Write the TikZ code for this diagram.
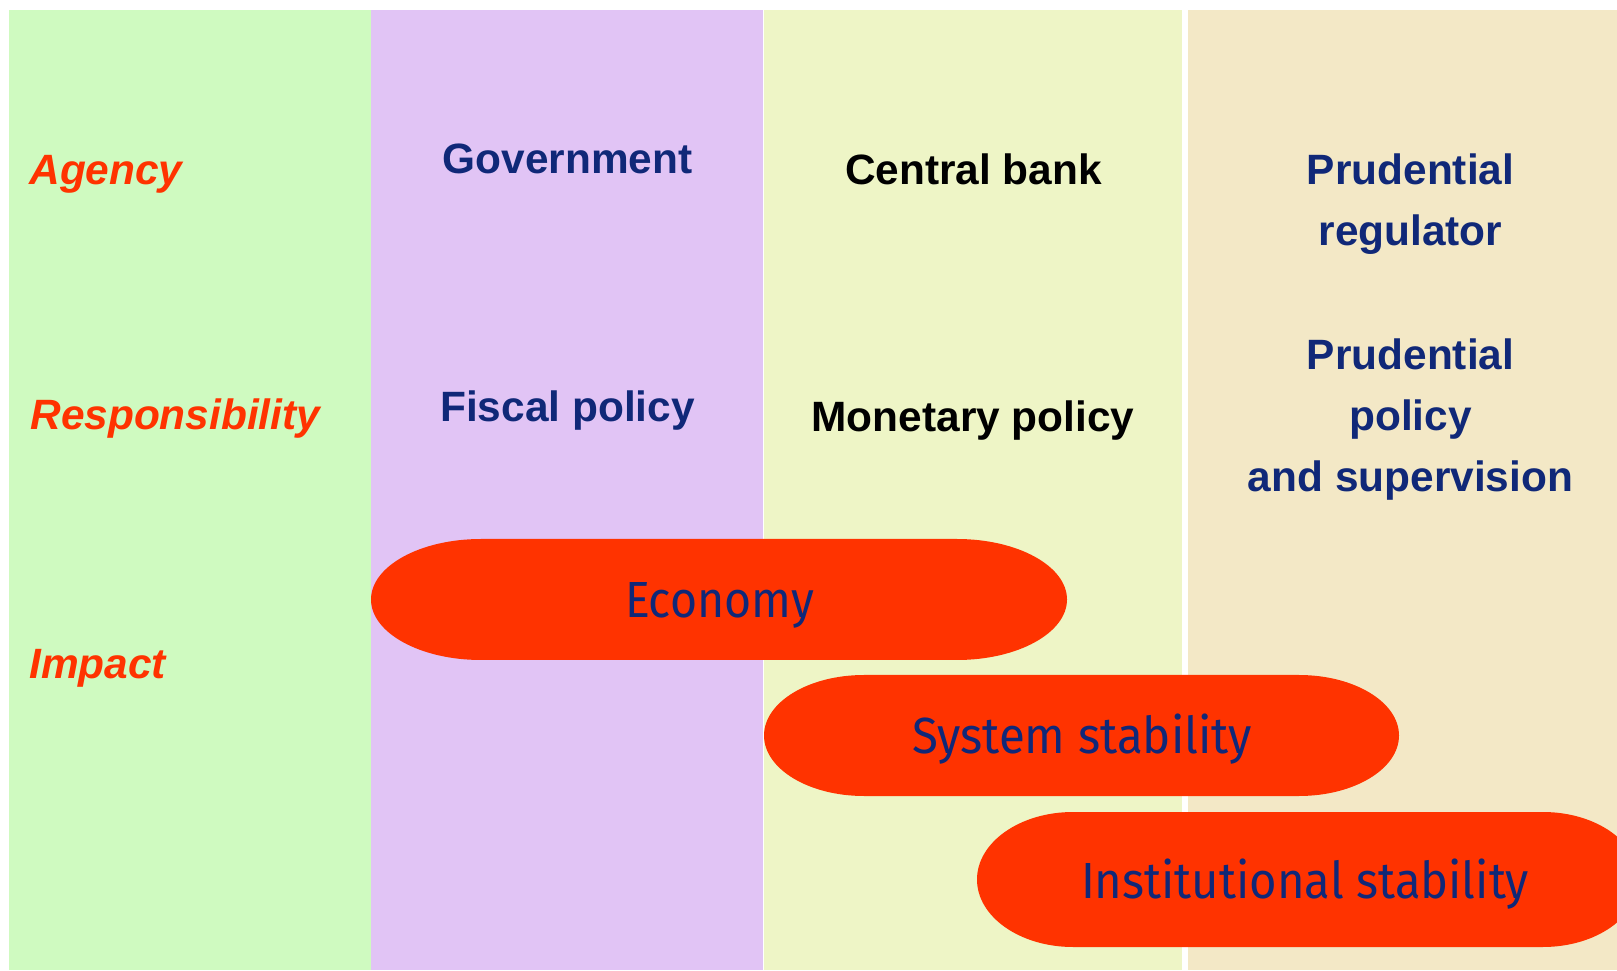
\documentclass[tikz,border=0pt]{standalone}
\usepackage{fontspec}
\setmainfont{Liberation Sans}
\newfontfamily\ellfont{Fira Sans}
\definecolor{colgreen}{HTML}{CFFAC0}
\definecolor{colpurple}{HTML}{E1C4F5}
\definecolor{colyellow}{HTML}{EEF5C6}
\definecolor{colbeige}{HTML}{F3E8C6}
\definecolor{ellred}{HTML}{FF3300}
\definecolor{labred}{HTML}{FF3300}
\definecolor{navy}{HTML}{102878}
\begin{document}
\begin{tikzpicture}[x=0.5pt,y=0.5pt,
  lbl/.style={font=\fontsize{21.2pt}{30.6pt}\selectfont\bfseries, inner sep=0pt, anchor=base, align=center},
  side/.style={font=\fontsize{21.2pt}{30.6pt}\selectfont\bfseries\itshape, text=labred, inner sep=0pt, anchor=base west},
  elltext/.style={font=\fontsize{25.4pt}{30pt}\ellfont, text=navy, inner sep=0pt, anchor=base},
  stadium/.style={fill=ellred}]
\useasboundingbox (0,0) rectangle (1617,970);
\fill[white] (0,0) rectangle (1617,970);
\clip (0,0) rectangle (1617,970);
% columns
\fill[colgreen] (9,0) rectangle (371,960);
\fill[colpurple] (371,0) rectangle (763,960);
\fill[colyellow] (764,0) rectangle (1182,960);
\fill[colbeige] (1188,0) rectangle (1617,960);
% row labels
\node[side] (agency) at (29,785) {Agency};
\node[side] (resp) at (30,540) {Responsibility};
\node[side] (impact) at (29,292) {Impact};
% column headers
\node[lbl, text=navy] (gov) at (567.5,796) {Government};
\node[lbl, text=navy] (fiscal) at (567.5,548) {Fiscal policy};
\node[lbl, text=black] (cb) at (973.5,785) {Central bank};
\node[lbl, text=black] (mon) at (973,538) {Monetary policy};
\node[lbl, text=navy] (preg) at (1410.5,724) {Prudential\\regulator};
\node[lbl, text=navy] (ppol) at (1410.5,478) {Prudential\\policy\\and supervision};
% impact shapes
\fill[stadium] (481,431) -- (957,431) arc[start angle=90,end angle=-90,x radius=110,y radius=60.5]
  -- (481,310) arc[start angle=270,end angle=90,x radius=110,y radius=60.5] -- cycle;
\fill[stadium] (864,295) -- (1299,295) arc[start angle=90,end angle=-90,x radius=100,y radius=60.5]
  -- (864,174) arc[start angle=270,end angle=90,x radius=100,y radius=60.5] -- cycle;
\fill[stadium] (1073,158) -- (1543,158) arc[start angle=90,end angle=-90,x radius=96,y radius=67.5]
  -- (1073,23) arc[start angle=270,end angle=90,x radius=96,y radius=67.5] -- cycle;
\node[elltext] (econ) at (719.5,352) {\resizebox{94.5pt}{\height}{Economy}};
\node[elltext] (sys) at (1082,217) {\resizebox{170pt}{\height}{System stability}};
\node[elltext] (inst) at (1305,72) {\resizebox{224pt}{\height}{Institutional stability}};
\end{tikzpicture}
\end{document}
